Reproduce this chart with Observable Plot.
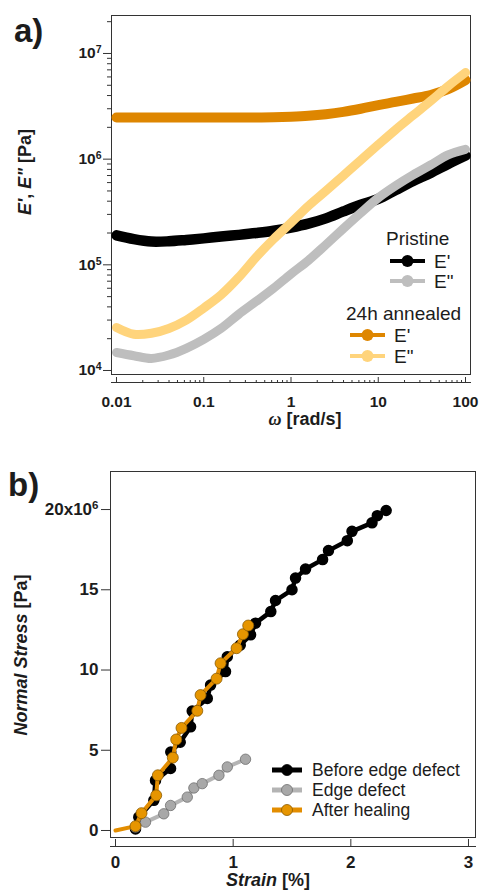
<!DOCTYPE html>
<html><head><meta charset="utf-8">
<script src="https://cdn.jsdelivr.net/npm/d3@7"></script>
<script src="https://cdn.jsdelivr.net/npm/@observablehq/plot@0.6"></script>
<style>
body{margin:0;background:#fff;}
#wrap{position:relative;width:481px;height:890px;overflow:hidden;background:#fff}
#a{position:absolute;left:0;top:0}
#b{position:absolute;left:0;top:440px}
svg text{font-family:"Liberation Sans",Arial,sans-serif}
</style></head><body><div id="wrap"><div id="a"></div><div id="b"></div></div>
<script>
// ---- Panel a data: frequency sweep ----
const omega = [0.01, 0.0158, 0.0251, 0.0398, 0.0631, 0.1, 0.158, 0.251, 0.398, 0.631, 1, 1.58, 2.51, 3.98, 6.31, 10, 15.8, 25.1, 39.8, 63.1, 100];
const pristineStorage = [1.9e5, 1.75e5, 1.66e5, 1.67e5, 1.72e5, 1.78e5, 1.85e5, 1.92e5, 2.0e5, 2.1e5, 2.25e5, 2.45e5, 2.75e5, 3.2e5, 3.7e5, 4.2e5, 5.1e5, 6.2e5, 7.4e5, 9.0e5, 1.08e6];
const pristineLoss = [1.48e4, 1.38e4, 1.3e4, 1.4e4, 1.62e4, 1.97e4, 2.5e4, 3.4e4, 4.5e4, 6.0e4, 8.2e4, 1.1e5, 1.55e5, 2.2e5, 3.1e5, 4.3e5, 5.6e5, 7.1e5, 8.8e5, 1.1e6, 1.24e6];
const annealedStorage = [2.48e6, 2.48e6, 2.48e6, 2.48e6, 2.48e6, 2.48e6, 2.48e6, 2.48e6, 2.48e6, 2.49e6, 2.52e6, 2.57e6, 2.66e6, 2.8e6, 3.0e6, 3.25e6, 3.48e6, 3.75e6, 4.05e6, 4.6e6, 5.6e6];
const annealedLoss = [2.55e4, 2.2e4, 2.25e4, 2.5e4, 3.0e4, 3.9e4, 5.2e4, 7.6e4, 1.18e5, 1.75e5, 2.5e5, 3.6e5, 5.0e5, 7.0e5, 9.8e5, 1.37e6, 1.9e6, 2.6e6, 3.55e6, 4.9e6, 6.6e6];
const freqTicks = [0.01, 0.1, 1, 10, 100];
const modulusTicks = [1e4, 1e5, 1e6, 1e7];
const legendA = [
  {group: "Pristine", label: "E'", color: "#000000"},
  {group: "Pristine", label: "E\"", color: "#BEBEBE"},
  {group: "24h annealed", label: "E'", color: "#DE8600"},
  {group: "24h annealed", label: "E\"", color: "#FFD47C"}
];

// ---- Panel b data: normal stress vs strain (stress in 10^6 Pa) ----
const strainBefore = [0.17, 0.198, 0.326, 0.34, 0.468, 0.47, 0.55, 0.638, 0.652, 0.78, 0.808, 0.935, 0.95, 1.06, 1.148, 1.19, 1.32, 1.36, 1.50, 1.53, 1.615, 1.76, 1.81, 1.97, 2.01, 2.18, 2.225, 2.30];
const stressBefore = [0.1, 0.83, 1.88, 3.12, 3.86, 4.89, 5.5, 6.46, 7.44, 8.23, 9.06, 9.9, 10.83, 11.55, 12.19, 12.92, 13.64, 14.33, 15.0, 15.73, 16.29, 16.88, 17.44, 18.06, 18.64, 19.17, 19.62, 19.94];
const strainDefect = [0.17, 0.255, 0.41, 0.468, 0.61, 0.666, 0.737, 0.879, 0.95, 1.105];
const stressDefect = [0.21, 0.52, 1.04, 1.56, 2.08, 2.65, 2.92, 3.44, 3.96, 4.44];
const strainHealed = [0, 0.17, 0.221, 0.346, 0.36, 0.487, 0.516, 0.561, 0.695, 0.723, 0.859, 0.893, 1.029, 1.083, 1.128];
const stressHealed = [0, 0.27, 1.08, 2.19, 3.44, 4.54, 5.67, 6.39, 7.46, 8.44, 9.46, 10.42, 11.36, 12.23, 12.77];
const strainTicks = [0, 1, 2, 3];
const stressTicks = [0, 5, 10, 15, 20];
const legendB = [
  {label: "Before edge defect", line: "#000000", fill: "#000000", stroke: "#000000"},
  {label: "Edge defect", line: "#B4B4B4", fill: "#A8A8A8", stroke: "#6E6E6E"},
  {label: "After healing", line: "#E38D00", fill: "#E69500", stroke: "#8A5A00"}
];

const TXT = "#1c1c1c";

const minorX = [];
for (let e = -2; e < 2; e++) for (let m = 2; m <= 9; m++) minorX.push(+(m * Math.pow(10, e)).toPrecision(3));
const minorY = [];
for (let e = 4; e <= 7; e++) for (let m = 2; m <= 9; m++) { const v = m * Math.pow(10, e); if (v <= 2.2e7) minorY.push(v); }

const rowsA = vals => omega.map((w, i) => ({w, v: vals[i]}));
const lineA = (vals, color, width) => Plot.line(rowsA(vals), {x: "w", y: "v", stroke: color, strokeWidth: width, curve: "catmull-rom", strokeLinecap: "round", strokeLinejoin: "round"});
const blank = () => "";

const svgA = Plot.plot({
  width: 481, height: 430,
  marginLeft: 111, marginRight: 11, marginTop: 15, marginBottom: 48,
  style: {background: "#fff", color: TXT, fontWeight: "bold", fontSize: "15.5px", overflow: "visible"},
  x: {type: "log", domain: [0.008764, 114.1]},
  y: {type: "log", domain: [7.697e3, 2.288e7]},
  marks: [
    Plot.frame({insetBottom: 8, stroke: "#333"}),
    Plot.frame({anchor: "bottom", stroke: "#333"}),
    Plot.axisY(minorY, {tickSize: 4, tickFormat: blank, stroke: "#333", label: null}),
    Plot.axisY(modulusTicks, {tickSize: 8, tickPadding: 2, stroke: "#333", tickFormat: d => "10^" + Math.round(Math.log10(d)), label: null}),
    Plot.axisX(minorX, {anchor: "top", frameAnchor: "bottom", tickSize: 3, tickFormat: blank, stroke: "#333", label: null}),
    Plot.axisX(freqTicks, {anchor: "top", frameAnchor: "bottom", tickSize: 6, tickFormat: blank, stroke: "#333", label: null}),
    Plot.axisX(freqTicks, {anchor: "bottom", tickSize: 0, tickPadding: 13, tickFormat: d => String(d), label: null}),
    lineA(pristineStorage, "#000000", 10.5),
    lineA(annealedStorage, "#DE8600", 10),
    lineA(pristineLoss, "#BEBEBE", 9),
    lineA(annealedLoss, "#FFD47C", 9)
  ]
});
document.getElementById("a").appendChild(svgA);

const rowsB = (xs, ys) => xs.map((x, i) => ({x, y: ys[i]}));
const before = rowsB(strainBefore, stressBefore);
const defect = rowsB(strainDefect, stressDefect);
const healed = rowsB(strainHealed, stressHealed);

const svgB = Plot.plot({
  width: 481, height: 450,
  marginLeft: 110, marginRight: 6, marginTop: 31, marginBottom: 44,
  style: {background: "#fff", color: TXT, fontWeight: "bold", fontSize: "17px", overflow: "visible"},
  x: {domain: [-0.0425, 3.0595]},
  y: {domain: [-0.997, 22.37]},
  marks: [
    Plot.frame({insetBottom: 9, stroke: "#333"}),
    Plot.frame({anchor: "bottom", stroke: "#333"}),
    Plot.axisY(stressTicks, {tickSize: 9, tickPadding: 3, stroke: "#333", tickFormat: d => d === 20 ? "20x10^6" : String(d), label: null}),
    Plot.axisX(strainTicks, {anchor: "top", frameAnchor: "bottom", tickSize: 8, tickFormat: blank, stroke: "#333", label: null}),
    Plot.axisX(strainTicks, {anchor: "bottom", tickSize: 0, tickPadding: 9, tickFormat: d => String(d), label: null}),
    Plot.line(before, {x: "x", y: "y", stroke: "#000", strokeWidth: 4.5, strokeLinejoin: "round"}),
    Plot.dot(before, {x: "x", y: "y", r: 5, fill: "#000", stroke: "#000"}),
    Plot.line(defect, {x: "x", y: "y", stroke: "#B4B4B4", strokeWidth: 4, strokeLinejoin: "round"}),
    Plot.dot(defect, {x: "x", y: "y", r: 5.2, fill: "#A8A8A8", stroke: "#6E6E6E", strokeWidth: 0.8}),
    Plot.line(healed, {x: "x", y: "y", stroke: "#E38D00", strokeWidth: 4, strokeLinejoin: "round"}),
    Plot.dot(healed.filter(d => d.x > 0), {x: "x", y: "y", r: 5.5, fill: "#E69500", stroke: "#8A5A00", strokeWidth: 0.8})
  ]
});
document.getElementById("b").appendChild(svgB);

// superscript exponents in tick labels ("10^7" -> 10 with raised 7)
[svgA, svgB].forEach(svg => {
  d3.select(svg).selectAll("text").each(function () {
    const s = this.textContent;
    if (s.indexOf("^") < 0 || this.childElementCount > 0) return;
    const [base, exp] = s.split("^");
    const t = d3.select(this);
    t.text(null);
    t.append("tspan").text(base);
    t.append("tspan").attr("dy", "-0.5em").attr("font-size", "0.68em").text(exp);
  });
});

// ---- Annotations (titles, panel letters, legends) ----
function addText(svg, x, y, parts, {size = 18, weight = "bold", rotate = 0, anchor = "middle", baseline = "central"} = {}) {
  const t = d3.select(svg).append("text")
    .attr("transform", `translate(${x},${y}) rotate(${rotate})`)
    .attr("text-anchor", anchor).attr("dominant-baseline", baseline)
    .attr("font-size", size).attr("font-weight", weight).attr("fill", TXT);
  parts.forEach(p => {
    const s = t.append("tspan").attr("font-style", p.italic ? "italic" : "normal").text(p.t);
    if (p.family) s.attr("font-family", p.family);
  });
  return t;
}

// panel a
addText(svgA, 14, 42, [{t: "a)"}], {size: 33, anchor: "start", baseline: "auto"});
addText(svgA, 25, 172, [{t: "E'", italic: true}, {t: ", "}, {t: "E\"", italic: true}, {t: " [Pa]"}], {rotate: -90, size: 18});
addText(svgA, 305, 419, [{t: "ω", italic: true, family: "'Liberation Serif','DejaVu Serif',serif"}, {t: " [rad/s]"}], {size: 18});

const gA = d3.select(svgA).append("g");
const legendRowsA = [
  {header: "Pristine", hx: 386, hy: 238, rows: [{y: 261, x0: 390, x1: 425}, {y: 281, x0: 390, x1: 425}]},
  {header: "24h annealed", hx: 346, hy: 313, rows: [{y: 335, x0: 350, x1: 385}, {y: 356, x0: 350, x1: 385}]}
];
let k = 0;
legendRowsA.forEach(g => {
  addText(svgA, g.hx, g.hy, [{t: g.header}], {size: 19, weight: "normal", anchor: "start"});
  g.rows.forEach(r => {
    const item = legendA[k++];
    gA.append("line").attr("x1", r.x0).attr("x2", r.x1).attr("y1", r.y).attr("y2", r.y).attr("stroke", item.color).attr("stroke-width", 4);
    gA.append("circle").attr("cx", (r.x0 + r.x1) / 2).attr("cy", r.y).attr("r", 6).attr("fill", item.color);
    addText(svgA, r.x1 + 9, r.y, [{t: item.label}], {size: 19, weight: "normal", anchor: "start"});
  });
});

// panel b
addText(svgB, 8, 56, [{t: "b)"}], {size: 33, anchor: "start", baseline: "auto"});
addText(svgB, 21, 215, [{t: "Normal Stress", italic: true}, {t: " [Pa]"}], {rotate: -90, size: 18});
addText(svgB, 268, 440, [{t: "Strain", italic: true}, {t: " [%]"}], {size: 18});

const gB = d3.select(svgB).append("g");
legendB.forEach((item, i) => {
  const y = 330 + i * 20;
  gB.append("line").attr("x1", 272).attr("x2", 302).attr("y1", y).attr("y2", y).attr("stroke", item.line).attr("stroke-width", 5);
  gB.append("circle").attr("cx", 287).attr("cy", y).attr("r", 5.5).attr("fill", item.fill).attr("stroke", item.stroke).attr("stroke-width", 0.8);
  addText(svgB, 312, y, [{t: item.label}], {size: 17.5, weight: "normal", anchor: "start"});
});
</script></body></html>
